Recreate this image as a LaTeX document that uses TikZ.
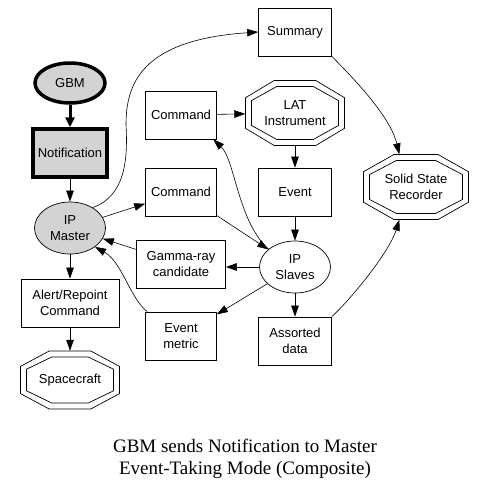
\documentclass[tikz,border=0pt]{standalone}
\usepackage{fontspec}
\setmainfont{Liberation Sans}
\newfontfamily\capfont{Liberation Serif}
\usetikzlibrary{arrows.meta,shapes.geometric}
\definecolor{nodegray}{RGB}{211,211,211}
\newcommand\dbloct[3]{%
  \draw[octline, shift={(#1.center)}] ({-0.42*#2},{-#3}) -- ({0.42*#2},{-#3}) -- ({#2},{-0.47*#3}) -- ({#2},{0.47*#3}) -- ({0.42*#2},{#3}) -- ({-0.42*#2},{#3}) -- ({-#2},{0.47*#3}) -- ({-#2},{-0.47*#3}) -- cycle;
  \draw[octline, shift={(#1.center)}] ({-0.42*(#2-6)},{-(#3-6)}) -- ({0.42*(#2-6)},{-(#3-6)}) -- ({#2-6},{-0.47*(#3-6)}) -- ({#2-6},{0.47*(#3-6)}) -- ({0.42*(#2-6)},{#3-6}) -- ({-0.42*(#2-6)},{#3-6}) -- ({-(#2-6)},{0.47*(#3-6)}) -- ({-(#2-6)},{-0.47*(#3-6)}) -- cycle;
}
\tikzset{
  every node/.style={font=\fontsize{13}{15.7}\selectfont, align=center, inner sep=0pt},
  boxnode/.style={draw, rectangle, minimum width=71pt, minimum height=48pt, line width=0.7pt},
  ellnode/.style={draw, ellipse, minimum width=71pt, minimum height=52pt, line width=0.7pt},
  octnode/.style={rectangle, minimum width=99pt, minimum height=58pt},
  octline/.style={line width=0.7pt},
  edge/.style={-{Triangle[length=11pt,width=7.5pt]}, line width=0.6pt},
  thickedge/.style={-{Triangle[length=10pt,width=9pt]}, line width=3pt},
  capstyle/.style={font=\capfont\fontsize{19}{22}\selectfont, anchor=base}
}
\begin{document}
\begin{tikzpicture}[x=1pt,y=-1pt]
\useasboundingbox[fill=white] (0,0) rectangle (487,488);
% nodes
\node[ellnode, fill=nodegray, line width=3.5pt, minimum width=70pt, minimum height=40pt] (gbm) at (70,83) {GBM};
\node[boxnode, fill=nodegray, line width=3.5pt, minimum width=74pt, minimum height=48pt] (notif) at (70,153) {Notification};
\node[ellnode, fill=nodegray] (ipm) at (70,228) {IP\\Master};
\node[boxnode, minimum width=98pt] (alert) at (70,303) {Alert/Repoint\\Command};
\node[octnode, minimum width=99pt, minimum height=58pt] (sc) at (70,380) {Spacecraft};
\node[boxnode] (cmdu) at (181,115) {Command};
\node[boxnode] (cmdl) at (181,192) {Command};
\node[boxnode, minimum width=73pt] (sum) at (295,32) {Summary};
\node[octnode, minimum width=99pt, minimum height=65pt] (lat) at (295,113) {LAT\\Instrument};
\node[boxnode, minimum width=73pt] (evt) at (295,192) {Event};
\node[octnode, minimum width=105pt, minimum height=65pt] (ssr) at (416,187) {Solid State\\Recorder};
\node[ellnode] (sl) at (295,267) {IP\\Slaves};
\node[boxnode, minimum width=89pt] (gam) at (181,264) {Gamma-ray\\candidate};
\node[boxnode] (em) at (181,336) {Event\\metric};
\node[boxnode, minimum width=73pt] (asr) at (295,341) {Assorted\\data};
\dbloct{sc}{49.5}{29}
\dbloct{lat}{49.5}{32.5}
\dbloct{ssr}{52.5}{32.5}
% caption
\node[capstyle] (cap1) at (245,452) {GBM sends Notification to Master};
\node[capstyle] (cap2) at (245,474) {Event-Taking Mode (Composite)};
% edges
\draw[thickedge] (gbm) -- (notif);
\draw[edge] (notif) -- (ipm);
\draw[edge] (ipm) -- (alert);
\draw[edge] (alert) -- (sc);
\draw[edge] (ipm) -- (cmdl);
\draw[edge] (ipm.42) .. controls (125,196) and (128,160) .. (126,125) .. controls (126,85) and (140,40) .. (sum.west);
\draw[edge] (cmdu) -- (lat);
\draw[edge] (lat) -- (evt);
\draw[edge] (evt) -- (sl);
\draw[edge] (cmdl) -- (sl);
\draw[edge] (sl.146) .. controls (238,222) and (235,160) .. (cmdu.-37);
\draw[edge] (sl.west) -- (sl.west -| gam.east);
\draw[edge] (gam) -- (ipm);
\draw[edge] ([xshift=2pt]em.north west) .. controls (130,298) and (122,262) .. (ipm.-37);
\draw[edge] (sl) -- (em);
\draw[edge] (sl) -- (asr);
\draw[edge] (sum.south east) .. controls (350,75) and (390,115) .. (ssr.117);
\draw[edge] (asr.north east) .. controls (355,295) and (390,250) .. (ssr.-117);
\end{tikzpicture}
\end{document}
